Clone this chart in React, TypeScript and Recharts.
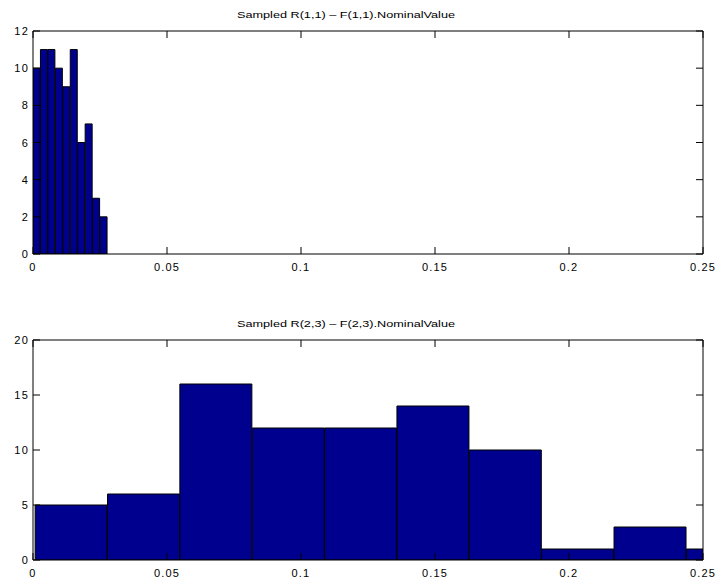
import { BarChart, Bar, XAxis, YAxis } from 'recharts';

// bin centres and counts
const topBins = [0.00139, 0.00417, 0.00695, 0.00973, 0.01251, 0.01529, 0.01807, 0.02085, 0.02363, 0.02641];
const topCounts = [10, 11, 11, 10, 9, 11, 6, 7, 3, 2];

const bottomBins = [0.0143, 0.0413, 0.0683, 0.0953, 0.1223, 0.1493, 0.1763, 0.2033, 0.2303, 0.2573];
const bottomCounts = [5, 6, 16, 12, 12, 14, 10, 1, 3, 1];

const xTicks = [0, 0.05, 0.1, 0.15, 0.2, 0.25];
const xTickLabels = ['0', '0.05', '0.1', '0.15', '0.2', '0.25'];
const topYTicks = [0, 2, 4, 6, 8, 10, 12];
const bottomYTicks = [0, 5, 10, 15, 20];

const topTitle = 'Sampled  R(1,1) \u2013 F(1,1).NominalValue';
const bottomTitle = 'Sampled  R(2,3) \u2013 F(2,3).NominalValue';

const W = 719;
const H = 290;
const X_MAX = 0.25;
const FILL = '#00008f';
const TICK_LEN = 7;
const MARGIN = 10;
const FONT = 'Liberation Sans, Arial, sans-serif';

const fmtX = (v: number) => {
  const i = xTicks.indexOf(v);
  return i >= 0 ? xTickLabels[i] : String(v);
};

type Side = 'bottom' | 'top' | 'left' | 'right';

// MATLAB-style ticks: line points into the plot, label outside
function AxisTick(props: any) {
  const { x, y, payload, side, label } = props as { x: number; y: number; payload: { value: number }; side: Side; label?: boolean };
  let line;
  let text = null;
  if (side === 'bottom') {
    const ay = y - MARGIN;
    line = <line x1={x} x2={x} y1={ay} y2={ay - TICK_LEN} stroke="#000" />;
    if (label)
      text = (
        <text x={x} y={ay + 17} textAnchor="middle" fontSize={11} letterSpacing={1.2} fontFamily={FONT} fill="#000">
          {fmtX(payload.value)}
        </text>
      );
  } else if (side === 'top') {
    const ay = y + MARGIN;
    line = <line x1={x} x2={x} y1={ay} y2={ay + TICK_LEN} stroke="#000" />;
  } else if (side === 'left') {
    const ax = x + MARGIN;
    line = <line x1={ax} x2={ax + TICK_LEN} y1={y} y2={y} stroke="#000" />;
    if (label)
      text = (
        <text x={ax - 4} y={y + 4} textAnchor="end" fontSize={11} letterSpacing={1.2} fontFamily={FONT} fill="#000">
          {payload.value}
        </text>
      );
  } else {
    const ax = x - MARGIN;
    line = <line x1={ax} x2={ax - TICK_LEN} y1={y} y2={y} stroke="#000" />;
  }
  return (
    <g>
      {line}
      {text}
    </g>
  );
}

interface HistProps {
  bins: number[];
  counts: number[];
  yTicks: number[];
  marginTop: number;
  marginBottom: number;
}

function Histogram({ bins, counts, yTicks, marginTop, marginBottom }: HistProps) {
  const data = bins.map((x, i) => ({ x, count: counts[i] }));
  const yMax = yTicks[yTicks.length - 1];
  const axisLine = { stroke: '#000' };
  return (
    <BarChart
      width={W}
      height={H}
      data={data}
      margin={{ top: marginTop, right: 15, bottom: marginBottom, left: 0 }}
      barGap={0}
      barCategoryGap={0}
    >
      <XAxis
        xAxisId="b"
        dataKey="x"
        type="number"
        domain={[0, X_MAX]}
        ticks={xTicks}
        interval={0}
        allowDataOverflow
        tickSize={0}
        tickMargin={MARGIN}
        tickLine={false}
        height={20}
        axisLine={axisLine}
        tick={<AxisTick side="bottom" label />}
      />
      <XAxis
        xAxisId="t"
        orientation="top"
        dataKey="x"
        type="number"
        domain={[0, X_MAX]}
        ticks={xTicks}
        interval={0}
        allowDataOverflow
        tickSize={0}
        tickMargin={MARGIN}
        tickLine={false}
        height={1}
        axisLine={axisLine}
        tick={<AxisTick side="top" />}
      />
      <YAxis
        yAxisId="l"
        domain={[0, yMax]}
        ticks={yTicks}
        interval={0}
        allowDataOverflow
        tickSize={0}
        tickMargin={MARGIN}
        tickLine={false}
        width={33}
        axisLine={axisLine}
        tick={<AxisTick side="left" label />}
      />
      <YAxis
        yAxisId="r"
        orientation="right"
        domain={[0, yMax]}
        ticks={yTicks}
        interval={0}
        allowDataOverflow
        tickSize={0}
        tickMargin={MARGIN}
        tickLine={false}
        width={1}
        axisLine={axisLine}
        tick={<AxisTick side="right" />}
      />
      <Bar
        xAxisId="b"
        yAxisId="l"
        dataKey="count"
        fill={FILL}
        stroke="#000"
        strokeWidth={1}
        isAnimationActive={false}
      />
    </BarChart>
  );
}

function Title({ text, y }: { text: string; y: number }) {
  return (
    <svg width={W} height={20} style={{ position: 'absolute', left: 0, top: y - 10 }}>
      <text
        x={237}
        y={13}
        fontSize={9.5}
        fontFamily={FONT}
        textLength={218}
        lengthAdjust="spacingAndGlyphs"
        fill="#000"
      >
        {text}
      </text>
    </svg>
  );
}

export default function App() {
  return (
    <div style={{ position: 'absolute', left: 0, top: 0, width: W, height: 580, background: '#fff' }}>
      <div style={{ position: 'absolute', left: 0, top: 0 }}>
        <Histogram bins={topBins} counts={topCounts} yTicks={topYTicks} marginTop={30} marginBottom={16} />
      </div>
      <div style={{ position: 'absolute', left: 0, top: 290 }}>
        <Histogram bins={bottomBins} counts={bottomCounts} yTicks={bottomYTicks} marginTop={49} marginBottom={0} />
      </div>
      <Title text={topTitle} y={15} />
      <Title text={bottomTitle} y={324} />
    </div>
  );
}
